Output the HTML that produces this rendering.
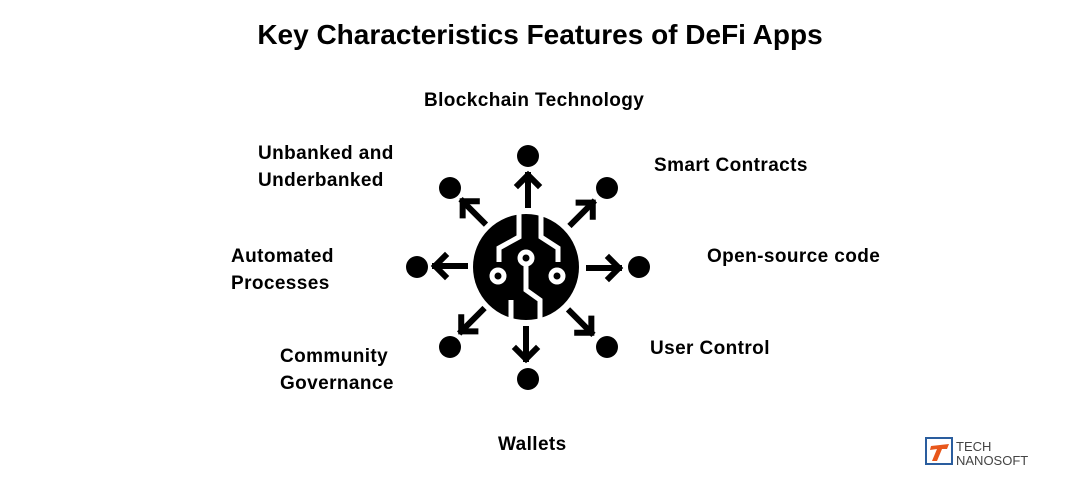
<!DOCTYPE html>
<html><head><style>
body{margin:0;width:1080px;height:502px;background:#fff;position:relative;font-family:"Liberation Sans",sans-serif;overflow:hidden}
.t{position:absolute;font-weight:bold;color:#000;font-size:19px;letter-spacing:0.4px;line-height:27px;white-space:nowrap}
</style></head><body>
<div class="t" style="left:0;width:1080px;text-align:center;top:18px;font-size:28px;letter-spacing:0;line-height:34px">Key Characteristics Features of DeFi Apps</div>
<div class="t" style="left:424px;top:87px">Blockchain Technology</div>
<div class="t" style="left:258px;top:140px">Unbanked and<br>Underbanked</div>
<div class="t" style="left:654px;top:152px">Smart Contracts</div>
<div class="t" style="left:231px;top:243px">Automated<br>Processes</div>
<div class="t" style="left:707px;top:243px">Open-source code</div>
<div class="t" style="left:280px;top:343px">Community<br>Governance</div>
<div class="t" style="left:650px;top:335px">User Control</div>
<div class="t" style="left:498px;top:431px">Wallets</div>
<svg width="1080" height="502" style="position:absolute;left:0;top:0">
<g fill="#000" stroke="none">
<circle cx="528" cy="156" r="11"/><circle cx="417" cy="267" r="11"/><circle cx="639" cy="267" r="11"/><circle cx="528" cy="379" r="11"/>
<circle cx="450" cy="188" r="11"/><circle cx="607" cy="188" r="11"/><circle cx="450" cy="347" r="11"/><circle cx="607" cy="347" r="11"/>
<circle cx="526" cy="267" r="53"/>
</g>
<g stroke="#000" stroke-width="6" fill="none" stroke-linecap="square">
<g id="a"><line x1="528" y1="205" x2="528" y2="175"/><polyline points="518,185 528,175 538,185"/></g>
<use href="#a" transform="rotate(45 527 267)"/><use href="#a" transform="rotate(90 527 267)"/><use href="#a" transform="rotate(135 527 267)"/>
<use href="#a" transform="rotate(180 527 267)"/><use href="#a" transform="rotate(225 527 267)"/><use href="#a" transform="rotate(270 527 267)"/><use href="#a" transform="rotate(315 527 267)"/>
</g>
<g stroke="#fff" stroke-width="5" fill="none">
<polyline points="519,213 519,237 499,248 499,262"/>
<polyline points="541,213 541,237 558,248 558,262"/>
<polyline points="526,265 526,290 540,300 540,320"/>
<line x1="511" y1="300" x2="511" y2="320"/>
<circle cx="526" cy="258" r="6"/><circle cx="498" cy="276" r="6"/><circle cx="557" cy="276" r="6"/>
</g>
<rect x="926" y="438" width="26" height="26" fill="#fff" stroke="#2a5d9e" stroke-width="2"/>
<path d="M931 446 L949 444 L947 449 L942 449 L937 461 L932 461 L937 449 L930 450Z" fill="#e8571b"/>
<text x="956" y="451" font-family="Liberation Sans" font-size="13" fill="#444">TECH</text>
<text x="956" y="465" font-family="Liberation Sans" font-size="13" fill="#444">NANOSOFT</text>
</svg>
</body></html>
